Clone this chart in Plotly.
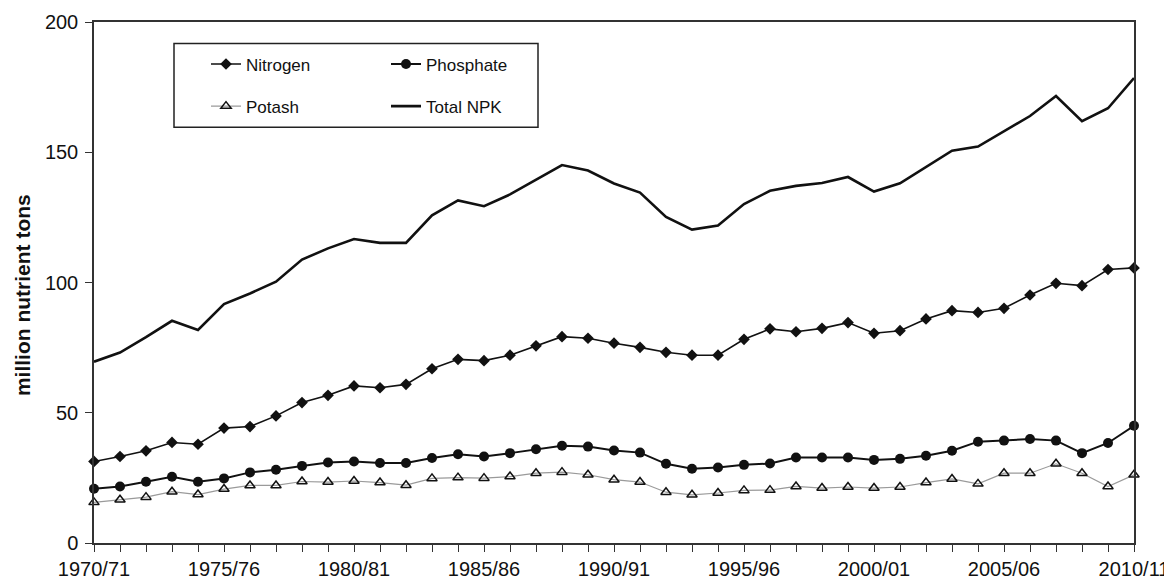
import plotly.graph_objects as go

seasons = ["1970/71","1971/72","1972/73","1973/74","1974/75","1975/76","1976/77","1977/78",
           "1978/79","1979/80","1980/81","1981/82","1982/83","1983/84","1984/85","1985/86",
           "1986/87","1987/88","1988/89","1989/90","1990/91","1991/92","1992/93","1993/94",
           "1994/95","1995/96","1996/97","1997/98","1998/99","1999/00","2000/01","2001/02",
           "2002/03","2003/04","2004/05","2005/06","2006/07","2007/08","2008/09","2009/10",
           "2010/11"]

nitrogen = [31.3,33.2,35.4,38.6,37.9,44.1,44.7,48.8,53.9,56.7,60.3,59.6,60.9,66.9,70.5,70.0,
            72.1,75.7,79.2,78.6,76.7,75.1,73.2,72.1,72.1,78.2,82.2,81.1,82.4,84.6,80.5,81.5,
            86.0,89.2,88.5,90.1,95.2,99.7,98.8,105.0,105.6]
phosphate = [20.8,21.7,23.5,25.4,23.5,24.8,27.1,28.1,29.6,30.9,31.3,30.7,30.7,32.6,34.1,33.2,
             34.5,36.0,37.3,37.0,35.5,34.7,30.4,28.5,29.0,30.0,30.5,32.8,32.8,32.8,31.9,32.3,
             33.5,35.4,38.9,39.3,39.9,39.3,34.5,38.4,45.0]
potash = [15.6,16.6,17.6,19.7,18.6,20.7,22.1,22.1,23.6,23.4,23.8,23.2,22.2,24.8,25.1,24.9,
          25.5,26.8,27.2,26.2,24.3,23.4,19.5,18.5,19.2,20.2,20.3,21.7,21.1,21.5,21.1,21.5,
          23.2,24.6,22.7,26.8,26.8,30.4,26.8,21.7,26.2]
total_npk = [69.6,73.1,79.0,85.3,81.8,91.7,95.8,100.3,108.8,113.1,116.7,115.2,115.2,125.8,131.5,129.3,
             133.8,139.6,145.1,143.0,138.0,134.5,125.2,120.3,121.9,130.1,135.2,137.1,138.2,140.5,134.9,138.1,
             144.3,150.6,152.2,158.0,163.9,171.6,161.9,166.9,178.5]

years = [int(s[:4]) for s in seasons]
y_ticks = [0, 50, 100, 150, 200]

fig = go.Figure()

fig.add_trace(go.Scatter(
    x=years, y=nitrogen, name="Nitrogen", mode="lines+markers",
    line=dict(color="#111111", width=1.6),
    marker=dict(symbol="diamond", size=9, color="#111111"),
    legend="legend", legendgroup="n", cliponaxis=False))
fig.add_trace(go.Scatter(
    x=years, y=potash, name="Potash", mode="lines+markers",
    line=dict(color="#9a9a9a", width=1.2),
    marker=dict(symbol="triangle-up-open", size=9, color="#111111", line=dict(width=1.5)),
    legend="legend", legendgroup="k", cliponaxis=False))
fig.add_trace(go.Scatter(
    x=years, y=phosphate, name="Phosphate", mode="lines+markers",
    line=dict(color="#111111", width=2),
    marker=dict(symbol="circle", size=10, color="#111111"),
    legend="legend2", legendgroup="p", cliponaxis=False))
fig.add_trace(go.Scatter(
    x=years, y=total_npk, name="Total NPK", mode="lines",
    line=dict(color="#111111", width=2.6),
    legend="legend2", legendgroup="t", cliponaxis=False))

# page offset (browser body margin)
OFF = 8
W, H = 1172 - OFF, 579 - OFF
# plot area in page pixels
PL, PR, PT, PB = 94, 1134, 21.5, 543.3
ml, mt = PL - OFF, PT - OFF
mr, mb = 1172 - PR, 579 - PB
pw, ph = PR - PL, PB - PT

def px_x(x):
    return (x - PL) / pw

def px_y(y):
    return 1 - (y - PT) / ph

legend_font = dict(family="Liberation Sans, Arial, sans-serif", size=17, color="#111111")

fig.update_layout(
    width=W, height=H,
    margin=dict(l=ml, r=mr, t=mt, b=mb, pad=0),
    paper_bgcolor="white", plot_bgcolor="white",
    font=dict(family="Liberation Sans, Arial, sans-serif", color="#111111"),
    showlegend=True,
    legend=dict(x=px_x(206), y=px_y(46), xanchor="left", yanchor="top",
                bgcolor="rgba(0,0,0,0)", borderwidth=0, font=legend_font,
                tracegroupgap=17, itemwidth=30),
    legend2=dict(x=px_x(386), y=px_y(46), xanchor="left", yanchor="top",
                 bgcolor="rgba(0,0,0,0)", borderwidth=0, font=legend_font,
                 tracegroupgap=17, itemwidth=30),
    shapes=[dict(type="rect", xref="paper", yref="paper",
                 x0=px_x(174), x1=px_x(538), y0=px_y(127), y1=px_y(43),
                 line=dict(color="#222222", width=1.5), fillcolor="rgba(0,0,0,0)",
                 layer="below")],
    annotations=[dict(text="<b>million nutrient tons</b>", xref="paper", yref="paper",
                      x=px_x(22), y=px_y(295), xanchor="center", yanchor="middle",
                      textangle=-90, showarrow=False,
                      font=dict(size=21, color="#111111"))],
    xaxis=dict(
        range=[years[0], years[-1]], automargin=False,
        tickvals=years[::5], ticktext=seasons[::5],
        ticks="outside", ticklen=7, tickwidth=1.3, tickcolor="#333333",
        minor=dict(dtick=1, ticks="outside", ticklen=7, tickwidth=1.3, tickcolor="#333333"),
        showline=True, linecolor="#333333", linewidth=1.5, mirror=True,
        showgrid=False, zeroline=False,
        tickfont=dict(size=20, color="#111111"),
    ),
    yaxis=dict(
        range=[0, 200], tickvals=y_ticks, automargin=False,
        ticks="outside", ticklen=7, tickwidth=1.3, tickcolor="#333333",
        ticklabelstandoff=3,
        showline=True, linecolor="#333333", linewidth=1.5, mirror=True,
        showgrid=False, zeroline=False,
        tickfont=dict(size=20, color="#111111"),
    ),
)

fig.write_html("out.html")
